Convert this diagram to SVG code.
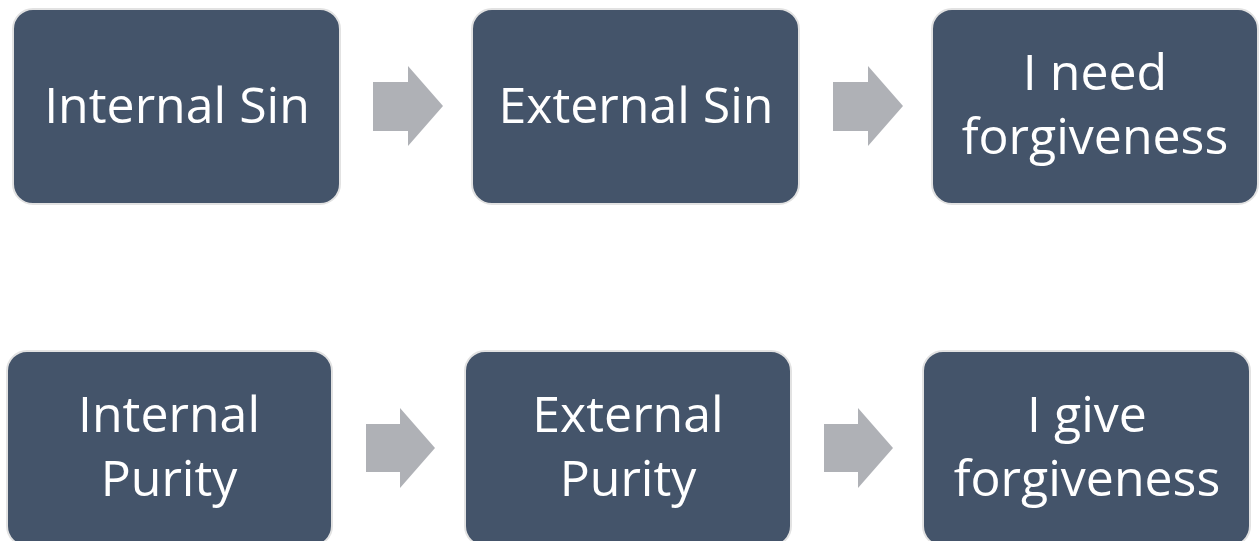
<svg xmlns="http://www.w3.org/2000/svg" width="1259" height="541" viewBox="0 0 1259 541">
<style>
.box{fill:#44546a;stroke:#e2e2e2;stroke-width:2}
.lbl{fill:#ffffff;font-family:"Open Sans","Noto Sans","Liberation Sans",sans-serif;font-size:50px;text-anchor:middle}
.arr{fill:#afb1b6}
</style>
<rect width="1259" height="541" fill="#ffffff"/>
<g id="connectors">
<path class="arr" d="M373,82 H408 V66 L443,106 L408,146 V131 H373 Z"/>
<path class="arr" d="M833,82 H868 V66 L903,106 L868,146 V131 H833 Z"/>
<path class="arr" d="M366,424 H400 V408 L435,448 L400,488 V472 H366 Z"/>
<path class="arr" d="M824,424 H858 V408 L893,448 L858,488 V472 H824 Z"/>
</g>
<g id="n1"><rect class="box" x="13" y="9" width="327" height="195" rx="20"/><text class="lbl" x="177" y="123">Internal Sin</text></g>
<g id="n2"><rect class="box" x="472" y="9" width="327" height="195" rx="20"/><text class="lbl" x="636" y="123">External Sin</text></g>
<g id="n3"><rect class="box" x="932" y="9" width="326" height="195" rx="20"/><text class="lbl" x="1095" y="90">I need</text><text class="lbl" x="1095" y="154">forgiveness</text></g>
<g id="n4"><rect class="box" x="7" y="351" width="325" height="195" rx="20"/><text class="lbl" x="169" y="432">Internal</text><text class="lbl" x="169" y="496">Purity</text></g>
<g id="n5"><rect class="box" x="465" y="351" width="326" height="195" rx="20"/><text class="lbl" x="628" y="432">External</text><text class="lbl" x="628" y="496">Purity</text></g>
<g id="n6"><rect class="box" x="923" y="351" width="327" height="195" rx="20"/><text class="lbl" x="1087" y="432">I give</text><text class="lbl" x="1087" y="496">forgiveness</text></g>
</svg>
